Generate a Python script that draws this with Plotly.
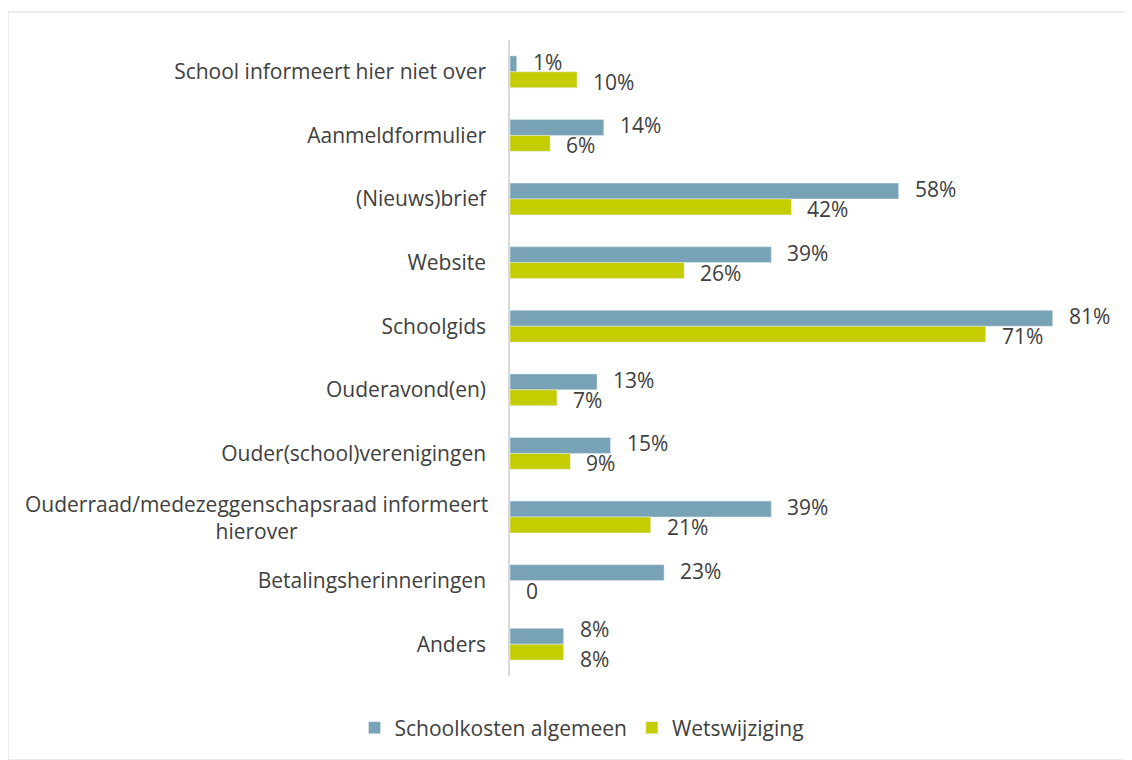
import plotly.graph_objects as go

categories = [
    "School informeert hier niet over",
    "Aanmeldformulier",
    "(Nieuws)brief",
    "Website",
    "Schoolgids",
    "Ouderavond(en)",
    "Ouder(school)verenigingen",
    "Ouderraad/medezeggenschapsraad informeert hierover",
    "Betalingsherinneringen",
    "Anders",
]
schoolkosten = [1, 14, 58, 39, 81, 13, 15, 39, 23, 8]
wetswijziging = [10, 6, 42, 26, 71, 7, 9, 21, 0, 8]

BLUE = "#78A2B5"
GREEN = "#C3CD00"
TXT = "#404040"
FONT = "Open Sans"
FS = 21


def label(v):
    return "0" if v == 0 else f"{v}%"


fig = go.Figure()
fig.add_trace(go.Bar(y=categories, x=schoolkosten, orientation="h",
                     name="Schoolkosten algemeen", marker_color=BLUE))
fig.add_trace(go.Bar(y=categories, x=wetswijziging, orientation="h",
                     name="Wetswijziging", marker_color=GREEN))

# data labels, placed next to the end of every bar
for i in range(len(categories)):
    # both labels the same length -> push them a bit apart
    spread = 7 if schoolkosten[i] == wetswijziging[i] else 2
    for vals, off, ys in ((schoolkosten, -0.125, spread), (wetswijziging, 0.125, -spread)):
        fig.add_annotation(x=vals[i], y=i + off, xref="x", yref="y",
                           text=label(vals[i]), showarrow=False,
                           xanchor="left", xshift=14, yshift=ys,
                           font=dict(size=FS, color=TXT))

ticktext = [c if not c.startswith("Ouderraad") else "" for c in categories]

# page puts the figure at (8, 8)
W, H = 1124, 752
L, T = 502, 32
R = W - 1105
B = H - 668
pw, ph = W - L - R, H - T - B

fig.update_layout(
    width=W, height=H,
    margin=dict(l=L, r=R, t=T, b=B),
    paper_bgcolor="white", plot_bgcolor="white",
    font=dict(family=FONT, size=FS, color=TXT),
    barmode="group", bargap=0.5, bargroupgap=0,
    showlegend=True,
    legend=dict(orientation="h", x=(574 - L) / pw, xanchor="center",
                y=-(720 - (T + ph)) / ph, yanchor="middle",
                font=dict(size=FS, color=TXT), itemwidth=30),
    xaxis=dict(range=[0, 90], showgrid=False, showticklabels=False,
               zeroline=False, showline=False, fixedrange=True),
    yaxis=dict(autorange="reversed", tickmode="array",
               tickvals=list(range(len(categories))), ticktext=ticktext,
               showline=True, linecolor="#D9D9D9", linewidth=1.5,
               ticks="", ticklabelstandoff=18,
               tickfont=dict(size=FS, color=TXT), showgrid=False),
)

idx = [i for i, c in enumerate(categories) if c.startswith("Ouderraad")][0]
fig.add_annotation(
    x=0, xref="paper", y=idx, yref="y", xanchor="right",
    xshift=-20, text="Ouderraad/medezeggenschapsraad informeert<br>hierover",
    showarrow=False, align="center", font=dict(size=FS, color=TXT),
)

# outer chart border
fig.add_shape(
    type="rect", xref="paper", yref="paper",
    x0=(0 - L) / pw, x1=(1123 - L) / pw,
    y0=(T + ph - 752) / ph, y1=(T + ph - 4) / ph,
    line=dict(color="#D9D9D9", width=1), fillcolor="rgba(0,0,0,0)", layer="below",
)

fig.write_html("out.html")
